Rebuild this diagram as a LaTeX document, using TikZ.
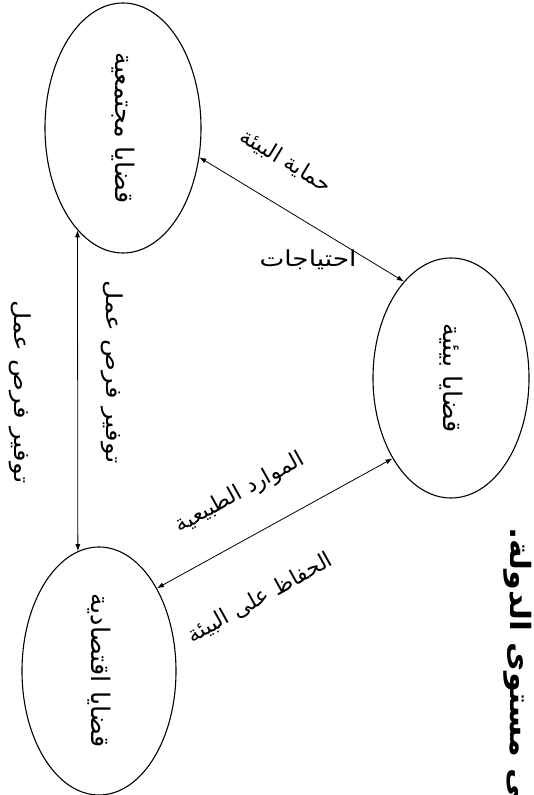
\documentclass[tikz,border=0pt]{standalone}
\usepackage{fontspec}
\usetikzlibrary{shapes.geometric,arrows.meta}
\TeXXeTstate=1
\newfontfamily\ar[Script=Arabic]{DejaVu Sans}
\tikzset{
  issue/.style={draw, line width=1.1pt, ellipse, inner sep=0pt, font=\ar\fontsize{25.5}{28}\selectfont},
  link/.style={line width=0.8pt, {Latex[length=7pt,width=5pt]}-{Latex[length=7pt,width=5pt]}},
  lbl/.style={inner sep=1pt, font=\ar\fontsize{22}{24}\selectfont}
}
\begin{document}
\begin{tikzpicture}[x=1pt,y=1pt]
\useasboundingbox (0,0) rectangle (534,795);
\clip (0,0) rectangle (534,795);
\fill[white] (0,0) rectangle (534,795);
% ellipses
\node[issue, minimum width=156pt, minimum height=250pt] (e1) at (123,667)
  {\rotatebox{-90}{\beginR قضايا مجتمعية\endR}};
\node[issue, minimum width=156pt, minimum height=240pt] (e2) at (451,417)
  {\rotatebox{-90}{\beginR قضايا بيئية\endR}};
\node[issue, minimum width=154pt, minimum height=248pt] (e3) at (99,124)
  {\rotatebox{-90}{\beginR قضايا اقتصادية\endR}};
% connectors
\draw[link] (e1.-21) -- (e2.116);
\draw[link] (e1.246) -- (e3.100);
\draw[link] (e2.234) -- (e3.55);
% labels
\node[lbl, rotate=-31] (l1) at (286,634) {\beginR حماية البيئة\endR};
\node[lbl] (l2) at (308,535) {\scalebox{1.2}[1]{\beginR احتياجات\endR}};
\node[lbl, rotate=-90] (l3) at (112,423) {\scalebox{1.2}[1]{\beginR توفير فرص عمل\endR}};
\node[lbl, rotate=-90] (l4) at (20,403) {\scalebox{1.2}[1]{\beginR توفير فرص عمل\endR}};
\node[lbl, rotate=29] (l5) at (240,302) {\beginR الموارد الطبيعية\endR};
\node[lbl, rotate=29] (l6) at (260,197) {\beginR الحفاظ على البيئة\endR};
% title (cut by the page edge)
\node[inner sep=0pt, rotate=-90, anchor=west, font=\ar\bfseries\fontsize{28}{31}\selectfont] (t) at (518,268)
  {\scalebox{1.14}[1]{\beginR على مستوى الدولة.\endR}};
\end{tikzpicture}
\end{document}
